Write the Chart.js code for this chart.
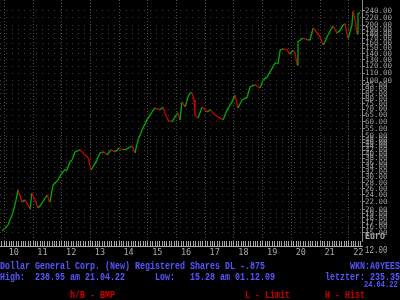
<!DOCTYPE html>
<html>
<head>
<meta charset="utf-8">
<script src="https://cdn.jsdelivr.net/npm/chart.js@4.4.0/dist/chart.umd.min.js"></script>
<style>
  html, body { margin: 0; padding: 0; background: #000; }
  #wrap { position: relative; width: 400px; height: 300px; overflow: hidden; background: #000; }
  canvas { position: absolute; left: 0; top: 0; }
  .txt { position: absolute; font-family: "Liberation Mono", monospace; font-weight: bold; font-size: 8.33px; line-height: 9px; white-space: pre; transform: scaleY(1.35); transform-origin: 0 50%; }
  .blue { color: #5555ff; }
  .red { color: #cc0000; }
  .gray { color: #aaaaaa; }
</style>
</head>
<body>
<div id="wrap">
  <canvas id="myChart" width="400" height="300"></canvas>
  <div class="txt gray" style="left:365px;top:232px">Euro</div>
  <div class="txt gray" style="left:365px;top:246px;font-size:7.5px;font-weight:normal">12.00</div>
  <div class="txt blue" style="left:0;top:262px">Dollar General Corp. (New) Registered Shares DL -.875</div>
  <div class="txt blue" style="left:350px;top:262px">WKN:A0YEES</div>
  <div class="txt blue" style="left:0;top:273px">High:  238.95 am 21.04.22      Low:   15.28 am 01.12.09</div>
  <div class="txt blue" style="left:325px;top:273px">letzter: 235.35</div>
  <div class="txt blue" style="left:364px;top:281px;font-size:7px;line-height:7px">24.04.22</div>
  <div class="txt red" style="left:70px;top:291px">h/B - BMP</div>
  <div class="txt red" style="left:245px;top:291px">L - Limit</div>
  <div class="txt red" style="left:325px;top:291px">H - Hist</div>
</div>
<script>
// Kurs in Euro, Zeit als Dezimaljahr
const dates = [
  2009.92, 2010.13, 2010.30, 2010.41, 2010.48, 2010.55, 2010.62, 2010.72, 2010.83, 2010.90,
  2010.96, 2011.07, 2011.17, 2011.24, 2011.31, 2011.42, 2011.49, 2011.59, 2011.70, 2011.77,
  2011.87, 2012.01, 2012.11, 2012.18, 2012.29, 2012.36, 2012.46, 2012.64, 2012.81, 2012.92,
  2013.02, 2013.13, 2013.23, 2013.33, 2013.47, 2013.58, 2013.72, 2013.86, 2014.00, 2014.14,
  2014.28, 2014.45, 2014.55, 2014.66, 2014.80, 2014.97, 2015.15, 2015.25, 2015.42, 2015.53,
  2015.60, 2015.70, 2015.84, 2015.95, 2016.05, 2016.12, 2016.19, 2016.30, 2016.40, 2016.47,
  2016.54, 2016.61, 2016.64, 2016.75, 2016.89, 2017.06, 2017.17, 2017.34, 2017.45, 2017.52,
  2017.62, 2017.76, 2017.93, 2018.04, 2018.14, 2018.28, 2018.46, 2018.56, 2018.73, 2018.91,
  2019.01, 2019.15, 2019.26, 2019.43, 2019.54, 2019.61, 2019.71, 2019.85, 2019.95, 2020.06,
  2020.13, 2020.20, 2020.23, 2020.41, 2020.55, 2020.65, 2020.76, 2020.90, 2021.00, 2021.10,
  2021.17, 2021.28, 2021.45, 2021.59, 2021.70, 2021.80, 2021.87, 2021.94, 2021.98, 2022.11,
  2022.15, 2022.22, 2022.29, 2022.32, 2022.39
]
const prices = [
  15.28, 16.5, 19.2, 22.6, 25.6, 23.7, 22.0, 22.6, 21.2, 20.2,
  24.6, 22.6, 20.4, 20.9, 21.7, 23.1, 24.0, 22.0, 27.2, 27.9,
  29.0, 31.6, 32.8, 32.8, 36.3, 37.2, 41.1, 42.2, 39.6, 38.2,
  32.8, 35.0, 37.2, 40.6, 41.1, 39.6, 42.2, 41.1, 43.2, 42.2,
  42.7, 44.3, 40.6, 47.8, 54.2, 61.4, 67.8, 71.3, 69.6, 72.2,
  67.0, 61.4, 59.9, 63.7, 67.0, 61.4, 76.9, 72.2, 81.8, 86.1,
  86.1, 78.8, 65.3, 62.9, 72.2, 67.8, 69.6, 65.3, 63.7, 62.9,
  61.4, 69.6, 76.9, 83.9, 71.3, 78.8, 81.8, 92.8, 95.1, 91.6,
  101, 105, 112, 125, 125, 147, 149, 147, 140, 147,
  142, 122, 163, 171, 167, 167, 194, 182, 173, 157,
  163, 178, 199, 182, 189, 201, 204, 178, 171, 201,
  238.95, 214, 180, 231, 235.35
]
const yTicks = [240, 220, 200, 190, 180, 170, 160, 150, 140, 130, 120, 110, 100,
  95, 90, 85, 80, 75, 70, 65, 60, 55, 50, 48, 46, 44, 42, 40, 38, 36, 34, 32,
  30, 28, 26, 24, 22, 20, 19, 18, 17, 16, 15]
const years = [2010, 2011, 2012, 2013, 2014, 2015, 2016, 2017, 2018, 2019, 2020, 2021, 2022]

const xMin = 2009.85
const xMax = 2022.46
const green = "#00aa00"
const red = "#cc0000"
const dotColor = "#404040"
const monoFont = "DejaVu Sans Mono"

function zeroPad(s) {
  s.paddingLeft = 0
  s.paddingRight = 0
  s.paddingTop = 0
  s.paddingBottom = 0
}

const chart = new Chart(document.getElementById("myChart"), {
  type: "line",
  data: {
    datasets: [{
      data: dates.map((d, i) => ({ x: d, y: prices[i] })),
      borderWidth: 1.3,
      pointRadius: 0,
      tension: 0,
      borderColor: green,
      segment: {
        borderColor: (ctx) => ctx.p1.parsed.y >= ctx.p0.parsed.y ? green : red
      }
    }]
  },
  options: {
    responsive: false,
    animation: false,
    devicePixelRatio: 1,
    layout: { padding: 0 },
    plugins: {
      legend: { display: false },
      tooltip: { enabled: false }
    },
    scales: {
      x: {
        type: "linear",
        min: xMin,
        max: xMax,
        weight: 0,
        afterBuildTicks: (s) => { s.ticks = years.map(v => ({ value: v })) },
        afterFit: (s) => { s.height = 0; zeroPad(s) },
        ticks: { display: false },
        grid: { color: "#4a4a4a", drawTicks: false },
        border: { display: false, dash: [1, 2] }
      },
      xr: {
        type: "linear",
        position: "bottom",
        min: xMin,
        max: xMax,
        weight: 1,
        afterBuildTicks: (s) => {
          let t = []
          for (let m = 0; m < 12 * 13; m++) {
            const v = 2009 + 11 / 12 + m / 12
            if (v <= xMax) t.push({ value: v })
          }
          s.ticks = t
        },
        afterFit: (s) => { s.height = 5; zeroPad(s) },
        ticks: { display: false },
        grid: { drawOnChartArea: false, tickLength: 5, tickColor: "#aaaaaa" },
        border: { display: false }
      },
      xl: {
        type: "linear",
        position: "bottom",
        min: xMin,
        max: xMax,
        weight: 2,
        afterBuildTicks: (s) => { s.ticks = years.map(v => ({ value: v + 0.33 })) },
        afterFit: (s) => { s.height = 54; zeroPad(s) },
        ticks: {
          autoSkip: false,
          maxRotation: 0,
          padding: 2,
          color: "#aaaaaa",
          font: { family: monoFont, size: 8.5 },
          callback: (v) => String(Math.floor(v) % 100)
        },
        grid: { drawOnChartArea: false, drawTicks: false },
        border: { display: true, color: "#aaaaaa", width: 1 }
      },
      y: {
        type: "logarithmic",
        position: "right",
        min: 13.5,
        max: 275,
        afterBuildTicks: (s) => { s.ticks = yTicks.map(v => ({ value: v })) },
        afterFit: (s) => { s.width = 38; zeroPad(s) },
        ticks: {
          autoSkip: false,
          padding: 0,
          color: "#a0a0a0",
          font: { family: monoFont, size: 7.5 },
          callback: (v) => Number(v).toFixed(2)
        },
        grid: { color: dotColor, tickLength: 3, tickColor: "#888888" },
        border: { display: true, color: "#888888", width: 1, dash: [1, 5] }
      }
    }
  }
})
</script>
</body>
</html>
